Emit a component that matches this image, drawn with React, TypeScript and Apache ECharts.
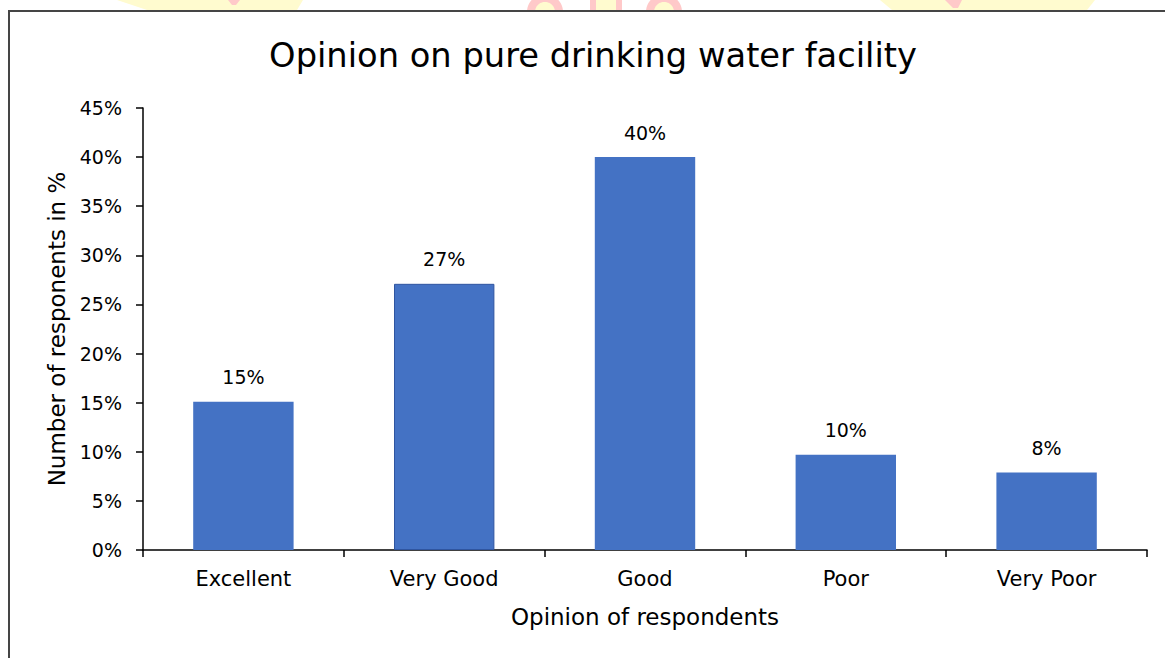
import React, { useEffect, useRef } from "react";
import * as echarts from "echarts";

const categories = ["Excellent", "Very Good", "Good", "Poor", "Very Poor"];
const values = [15.1, 27.1, 40.0, 9.7, 7.9];
const yTicks = [0, 5, 10, 15, 20, 25, 30, 35, 40, 45];

const titleText = "Opinion on pure drinking water facility";
const xName = "Opinion of respondents";
const yName = "Number of responents in %";

const FONT = "DejaVu Sans";

function capPoints(cx: number, cy: number, r: number, yMax: number) {
  const pts: number[][] = [];
  for (let i = 0; i <= 60; i++) {
    const a = Math.PI + (Math.PI * i) / 60;
    const x = cx + r * Math.cos(a);
    const y = cy + r * Math.sin(a);
    pts.push([x, Math.min(y, yMax)]);
  }
  return pts;
}

export default function App() {
  const ref = useRef<HTMLDivElement>(null);
  useEffect(() => {
    if (!ref.current) return;
    const chart = echarts.init(ref.current, null, { renderer: "svg" });
    const yellow = "#fffbcf";
    const pink = "#ffc9c9";
    chart.setOption({
      animation: false,
      backgroundColor: "#ffffff",
      textStyle: { fontFamily: FONT },
      graphic: [
        // faint watermark remnants above the chart frame
        { type: "polygon", silent: true, z: -10, shape: { points: [[117, 0], [303, 0], [297, 10], [147, 10]] }, style: { fill: yellow } },
        { type: "polygon", silent: true, z: -9, shape: { points: [[228, 0], [240, 0], [236, 5], [232, 5]] }, style: { fill: pink } },
        { type: "polygon", silent: true, z: -10, shape: { points: [[880, 0], [1095, 0], [1087, 10], [892, 10]] }, style: { fill: yellow } },
        { type: "polygon", silent: true, z: -9, shape: { points: [[945, 0], [962, 0], [958, 8], [953, 8]] }, style: { fill: pink } },
        { type: "polygon", silent: true, z: -10, shape: { points: capPoints(545, 12, 18, 10) }, style: { fill: pink } },
        { type: "polygon", silent: true, z: -9, shape: { points: capPoints(545, 12, 10, 10) }, style: { fill: yellow } },
        { type: "polygon", silent: true, z: -10, shape: { points: capPoints(664, 12, 18, 10) }, style: { fill: pink } },
        { type: "polygon", silent: true, z: -9, shape: { points: capPoints(664, 12, 10, 10) }, style: { fill: yellow } },
        { type: "rect", silent: true, z: -10, shape: { x: 590, y: 0, width: 32, height: 10 }, style: { fill: pink } },
        { type: "rect", silent: true, z: -9, shape: { x: 596, y: 0, width: 20, height: 10 }, style: { fill: yellow } },
        // chart frame
        {
          type: "rect",
          silent: true,
          shape: { x: 9, y: 11, width: 1200, height: 700 },
          style: { fill: "none", stroke: "#454545", lineWidth: 2 },
        },
        {
          type: "text",
          silent: true,
          x: 593,
          y: 55,
          style: {
            text: titleText,
            fontFamily: FONT,
            fontSize: 33.7,
            fill: "#000000",
            textAlign: "center",
            textVerticalAlign: "middle",
          },
        },
      ],
      grid: { left: 143, right: 18, top: 108, bottom: 108, containLabel: false },
      xAxis: {
        type: "category",
        data: categories,
        name: xName,
        nameLocation: "middle",
        nameGap: 55,
        nameTextStyle: { fontFamily: FONT, fontSize: 23, color: "#000" },
        axisLine: { show: true, lineStyle: { color: "#000", width: 1.5 } },
        axisTick: { show: true, alignWithLabel: false, length: 7, lineStyle: { color: "#000", width: 1.5 } },
        axisLabel: { fontFamily: FONT, fontSize: 21, color: "#000", margin: 18, interval: 0 },
        splitLine: { show: false },
      },
      yAxis: {
        type: "value",
        min: yTicks[0],
        max: yTicks[yTicks.length - 1],
        interval: yTicks[1] - yTicks[0],
        name: yName,
        nameLocation: "middle",
        nameGap: 66,
        nameTextStyle: { fontFamily: FONT, fontSize: 23, color: "#000" },
        axisLine: { show: true, lineStyle: { color: "#000", width: 1.5 } },
        axisTick: { show: true, length: 7, lineStyle: { color: "#000", width: 1.5 } },
        axisLabel: { fontFamily: FONT, fontSize: 19, color: "#000", margin: 21, formatter: (v: number) => `${v}%` },
        splitLine: { show: false },
      },
      series: [
        {
          type: "bar",
          data: values.map((v, i) =>
            i === 1
              ? { value: v, itemStyle: { borderColor: "#2f55a0", borderWidth: 1 } }
              : v
          ),
          barWidth: "50%",
          itemStyle: { color: "#4472C4" },
          label: {
            show: true,
            position: "top",
            distance: 15,
            fontFamily: FONT,
            fontSize: 19,
            color: "#000",
            formatter: (p: any) => `${Math.round(p.value)}%`,
          },
        },
      ],
    });
    return () => chart.dispose();
  }, []);
  return (
    <div
      ref={ref}
      style={{ position: "fixed", left: 0, top: 0, width: 1165, height: 658 }}
    />
  );
}
